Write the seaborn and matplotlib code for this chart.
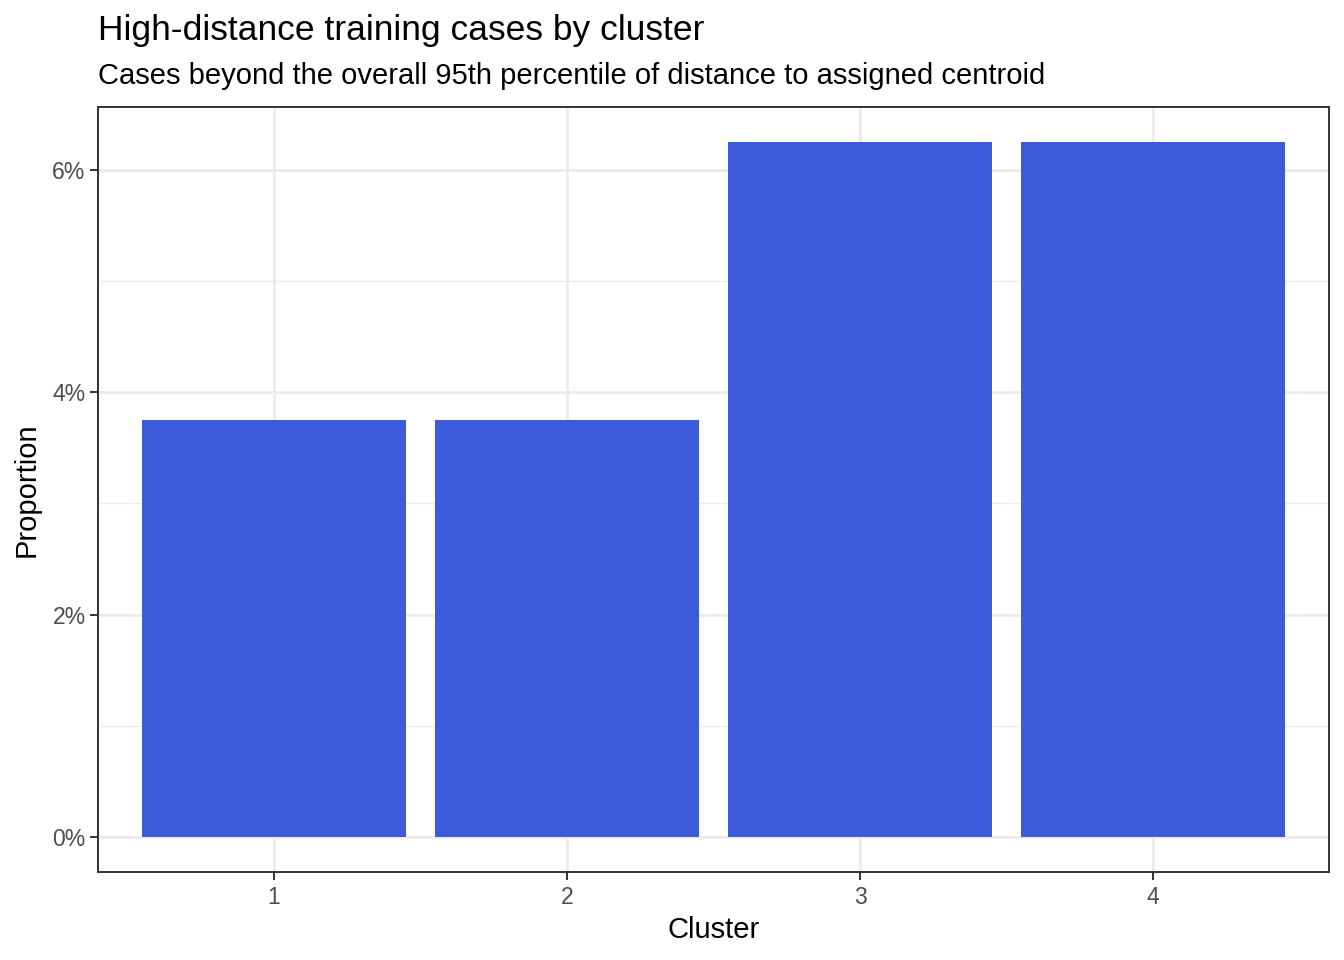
import matplotlib
matplotlib.use("Agg")
import matplotlib.pyplot as plt
import matplotlib.ticker as mtick
import seaborn as sns
import pandas as pd

# data
clusters = ["1", "2", "3", "4"]
proportion = [0.0375, 0.0375, 0.0625, 0.0625]

title = "High-distance training cases by cluster"
subtitle = "Cases beyond the overall 95th percentile of distance to assigned centroid"

df = pd.DataFrame({"Cluster": clusters, "Proportion": proportion})

sns.set_theme(style="white", rc={"xtick.bottom": True, "ytick.left": True})
plt.rcParams['font.family'] = ['Liberation Sans', 'DejaVu Sans']

fig = plt.figure(figsize=(13.44, 9.6), dpi=100)
ax = fig.add_axes([98/1344, 1-872/960, (1329-98)/1344, (872-107)/960])

sns.barplot(data=df, x="Cluster", y="Proportion", color="#3B5BDB",
            width=0.9, saturation=1, linewidth=0, ax=ax, zorder=3)

ax.set_xlim(-0.6, 3.6)
ax.set_ylim(-0.003125, 0.065625)
ax.yaxis.set_major_locator(mtick.MultipleLocator(0.02))
ax.yaxis.set_minor_locator(mtick.MultipleLocator(0.01))
ax.yaxis.set_major_formatter(mtick.PercentFormatter(1, decimals=0))

ax.grid(True, which="major", color="#EBEBEB", linewidth=2.0, zorder=0)
ax.grid(True, which="minor", axis="y", color="#EBEBEB", linewidth=1.0, zorder=0)
ax.set_axisbelow(True)

for s in ax.spines.values():
    s.set_color("#333333")
    s.set_linewidth(1.4)

ax.tick_params(axis="both", which="major", length=5.5, width=1.4, color="#333333",
               labelcolor="#4D4D4D", labelsize=16.5, pad=3.5,
               bottom=True, left=True)
ax.tick_params(axis="both", which="minor", length=0)
ax.tick_params(axis="x", pad=4.5)

ax.set_xlabel("")
ax.set_ylabel("")
fig.text(713.5/1344, 1-929.5/960, "Cluster", ha="center", va="center",
         fontsize=21, color="black")
fig.text(27/1344, 1-489.5/960, "Proportion", ha="center", va="center",
         rotation=90, fontsize=21, color="black")
fig.text(98/1344, 1-30.5/960, title, ha="left", va="center",
         fontsize=25.5, color="black")
fig.text(98/1344, 1-76.5/960, subtitle, ha="left", va="center",
         fontsize=21, color="black")

fig.savefig("out.png", dpi=100)
